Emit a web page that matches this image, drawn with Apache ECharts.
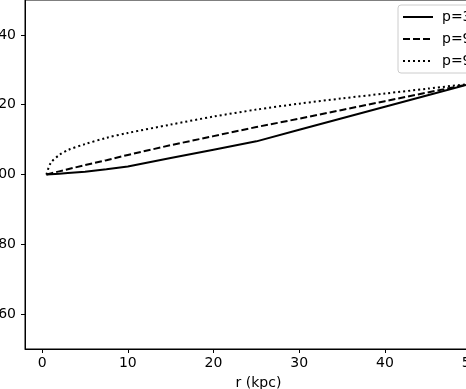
<!DOCTYPE html>
<html>
<head>
    <meta charset="UTF-8">
    <script src="https://cdn.jsdelivr.net/npm/echarts@6/dist/echarts.min.js"></script>
    <style>
        body { margin: 0; background: #fff; }
    </style>
</head>
<body>
    <div id="chart" style="width: 466px; height: 389px;"></div>
    <script type="text/javascript">
        // radius samples (kpc)
        var radii = [0.5, 1, 2, 3, 5, 7.5, 10, 15, 20, 25, 30, 35, 40, 45, 50];
        var solidVals  = [100, 100.05, 100.2, 100.4, 100.8, 101.5, 102.3, 104.7, 107.1, 109.5, 112.8, 116.1, 119.4, 122.7, 126];
        var dashedVals = [100, 100.3, 100.9, 101.5, 102.7, 104.1, 105.6, 108.4, 111.0, 113.6, 116.0, 118.5, 121.0, 123.5, 126];
        var dottedVals = [100, 103.3, 105.6, 107.0, 108.7, 110.5, 111.9, 114.3, 116.6, 118.6, 120.3, 121.8, 123.2, 124.6, 126];
        var names = ['p=30', 'p=90', 'p=95'];

        function pairs(vals) {
            return radii.map(function (r, i) { return [r, vals[i]]; });
        }

        var chart = echarts.init(document.getElementById('chart'));
        var font = 'DejaVu Sans';

        var option = {
            animation: false,
            grid: {
                left: 25, right: -26, top: 0, bottom: 40,
                outerBoundsMode: 'none', containLabel: false,
                show: true, borderColor: '#000', borderWidth: 1
            },
            legend: {
                orient: 'vertical',
                left: 398, top: 5,
                itemWidth: 30, itemHeight: 10, itemGap: 8,
                padding: [5, 10, 5, 4],
                borderColor: '#cccccc', borderWidth: 1, borderRadius: 3,
                backgroundColor: 'rgba(255,255,255,0.8)',
                itemStyle: { opacity: 0 },
                textStyle: { fontFamily: font, fontSize: 14, color: '#000', padding: [0, 0, 0, 4] },
                data: names
            },
            xAxis: {
                type: 'value',
                min: -2, max: 52.5,
                name: 'r (kpc)', nameLocation: 'middle', nameGap: 27,
                nameTextStyle: { fontFamily: font, fontSize: 14, color: '#000' },
                splitLine: { show: false },
                axisLine: { onZero: false, lineStyle: { color: '#000' } },
                axisTick: { length: 4, lineStyle: { color: '#000' } },
                axisLabel: {
                    fontFamily: font, fontSize: 14, color: '#000', margin: 7,
                    showMinLabel: false, showMaxLabel: false,
                    formatter: function (v) { return v % 10 === 0 ? v : ''; }
                }
            },
            yAxis: {
                type: 'value',
                min: 50, max: 150,
                splitLine: { show: false },
                axisLine: { show: true, onZero: false, lineStyle: { color: '#000' } },
                axisTick: { show: true, length: 4, lineStyle: { color: '#000' } },
                axisLabel: {
                    fontFamily: font, fontSize: 14, color: '#000', margin: 9,
                    showMinLabel: false, showMaxLabel: false,
                    formatter: function (v) { return v % 20 === 0 ? v : ''; }
                }
            },
            series: [
                {
                    name: names[0], type: 'line', symbol: 'none',
                    itemStyle: { color: '#000' },
                    lineStyle: { color: '#000', width: 2, type: 'solid' },
                    data: pairs(solidVals)
                },
                {
                    name: names[1], type: 'line', symbol: 'none',
                    itemStyle: { color: '#000' },
                    lineStyle: { color: '#000', width: 2, type: [7, 3] },
                    data: pairs(dashedVals)
                },
                {
                    name: names[2], type: 'line', symbol: 'none', smooth: 0.3,
                    itemStyle: { color: '#000' },
                    lineStyle: { color: '#000', width: 2, type: [2, 3] },
                    data: pairs(dottedVals)
                }
            ]
        };
        chart.setOption(option);
    </script>
</body>
</html>
